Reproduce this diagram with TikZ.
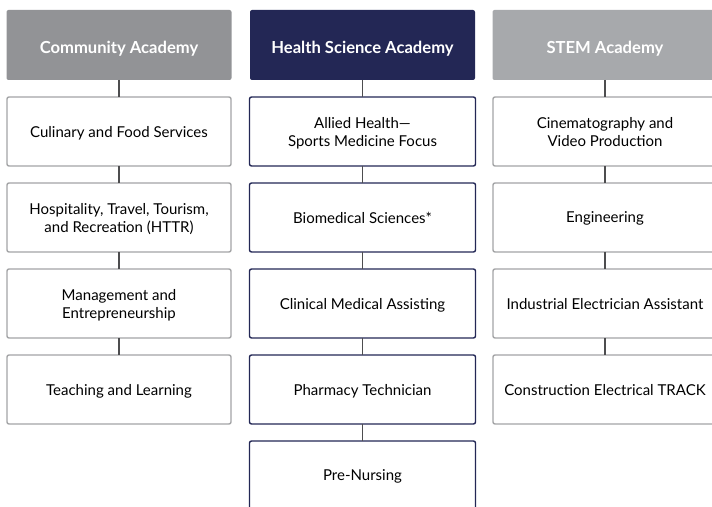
\documentclass[tikz,border=0pt]{standalone}
\usepackage{fontspec}
\setmainfont{Lato}
\usetikzlibrary{positioning}

\definecolor{navy}{HTML}{232755}
\definecolor{commgray}{HTML}{929396}
\definecolor{stemgray}{HTML}{A7A9AC}
\definecolor{edgegray}{HTML}{A3A4A6}
\definecolor{linkgray}{HTML}{4D4D4F}

\tikzset{
  head/.style={minimum width=225pt, minimum height=70pt, rounded corners=2pt,
    text=white, inner sep=0pt, outer sep=0pt, text height=18pt, text depth=0pt,
    font=\fontsize{16.6}{19}\selectfont\bfseries},
  course/.style={draw, fill=white, minimum width=224pt, minimum height=69pt,
    rounded corners=2pt, align=center, inner sep=0pt, outer sep=0pt, line width=1.4pt,
    text depth=0pt, font=\fontsize{15}{18}\selectfont},
  link/.style={linkgray, line width=1.5pt}
}

\begin{document}
\begin{tikzpicture}[x=1pt, y=1pt, node distance=17pt]
    \useasboundingbox (0,0) rectangle (712,506);

    % Headers
    \node[head, fill=commgray] (comm) at (119,461) {Community Academy};
    \node[head, fill=navy] (health) at (362.5,461) {Health Science Academy};
    \node[head, fill=stemgray] (stem) at (605,461) {STEM Academy};

    % Community column
    \node[course, draw=edgegray, below=of comm] (culinary) {Culinary and Food Services};
    \node[course, draw=edgegray, below=of culinary] (httr) {Hospitality, Travel, Tourism,\\and Recreation (HTTR)};
    \node[course, draw=edgegray, below=of httr] (mgmt) {Management and\\Entrepreneurship};
    \node[course, draw=edgegray, below=of mgmt] (teach) {Teaching and Learning};

    % Health Science column
    \node[course, draw=navy, minimum width=226pt, below=of health] (allied) {Allied Health---\\Sports Medicine Focus};
    \node[course, draw=navy, minimum width=226pt, below=of allied] (biomed) {Biomedical Sciences*};
    \node[course, draw=navy, minimum width=226pt, below=of biomed] (clinic) {Clinical Medical Assisting};
    \node[course, draw=navy, minimum width=226pt, below=of clinic] (pharm) {Pharmacy Technician};
    \node[course, draw=navy, minimum width=226pt, below=of pharm] (nursing) {Pre-Nursing};

    % STEM column
    \node[course, draw=edgegray, below=of stem] (cinema) {Cinematography and\\Video Production};
    \node[course, draw=edgegray, below=of cinema] (engin) {Engineering};
    \node[course, draw=edgegray, below=of engin] (indus) {Industrial Electrician Assistant};
    \node[course, draw=edgegray, below=of indus] (constr) {Construction Electrical TRACK};

    % Connectors
    \foreach \a/\b in {comm/culinary, culinary/httr, httr/mgmt, mgmt/teach,
                       health/allied, allied/biomed, biomed/clinic, clinic/pharm, pharm/nursing,
                       stem/cinema, cinema/engin, engin/indus, indus/constr}
        \draw[link] (\a.south) -- (\b.north);

\end{tikzpicture}
\end{document}
